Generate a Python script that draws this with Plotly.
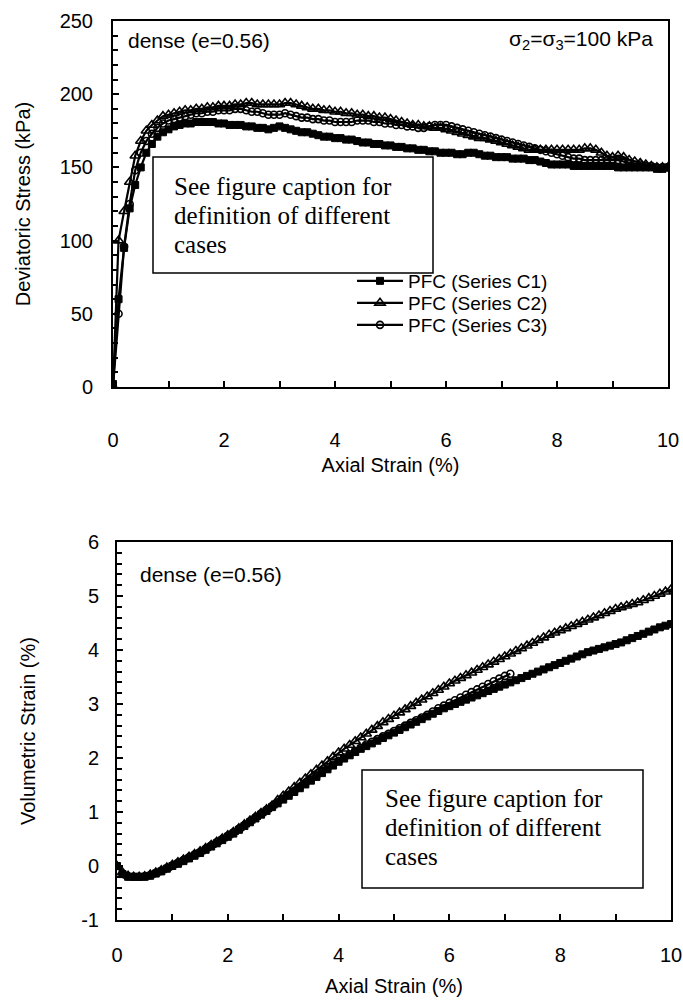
import plotly.graph_objects as go

# ---------------- data ----------------
strain = [0.0, 0.1, 0.2, 0.3, 0.4, 0.5, 0.6, 0.7, 0.8, 0.9,
          1.0, 1.1, 1.2, 1.3, 1.4, 1.5, 1.6, 1.7, 1.8, 1.9,
          2.0, 2.1, 2.2, 2.3, 2.4, 2.5, 2.6, 2.7, 2.8, 2.9,
          3.0, 3.1, 3.2, 3.3, 3.4, 3.5, 3.6, 3.7, 3.8, 3.9,
          4.0, 4.1, 4.2, 4.3, 4.4, 4.5, 4.6, 4.7, 4.8, 4.9,
          5.0, 5.1, 5.2, 5.3, 5.4, 5.5, 5.6, 5.7, 5.8, 5.9,
          6.0, 6.1, 6.2, 6.3, 6.4, 6.5, 6.6, 6.7, 6.8, 6.9,
          7.0, 7.1, 7.2, 7.3, 7.4, 7.5, 7.6, 7.7, 7.8, 7.9,
          8.0, 8.1, 8.2, 8.3, 8.4, 8.5, 8.6, 8.7, 8.8, 8.9,
          9.0, 9.1, 9.2, 9.3, 9.4, 9.5, 9.6, 9.7, 9.8, 9.9, 10.0]

# Deviatoric stress (kPa)
q_c1 = [2, 60, 95, 122, 138, 150, 160, 166, 171, 174,
        176, 178, 179, 180, 180, 181, 181, 181, 181, 180,
        180, 179, 179, 179, 178, 178, 177, 177, 176, 177,
        178, 177, 176, 175, 174, 174, 173, 172, 171, 171,
        170, 170, 169, 169, 168, 167, 167, 166, 166, 165,
        165, 164, 164, 163, 163, 162, 162, 161, 161, 160,
        160, 160, 159, 159, 160, 160, 159, 158, 158, 157,
        157, 157, 156, 156, 156, 155, 155, 154, 153, 152,
        152, 152, 152, 151, 151, 151, 151, 151, 151, 151,
        151, 150, 150, 150, 150, 150, 150, 150, 149, 149, 150]
q_c2 = [0, 100, 120, 140, 158, 168, 175, 179, 182, 185,
        186, 187, 188, 189, 189, 190, 190, 191, 191, 192,
        192, 192, 193, 193, 194, 194, 193, 193, 193, 193,
        193, 194, 194, 193, 192, 191, 190, 190, 189, 189,
        188, 188, 187, 187, 186, 186, 185, 185, 184, 184,
        183, 182, 181, 180, 179, 179, 178, 178, 177, 177,
        176, 175, 174, 173, 172, 171, 170, 170, 169, 168,
        167, 166, 165, 164, 163, 162, 162, 162, 162, 162,
        162, 162, 162, 162, 162, 163, 163, 162, 160, 158,
        157, 158, 157, 155, 154, 153, 152, 151, 150, 150, 150]
q_c3 = [0, 50, 96, 125, 148, 160, 168, 173, 177, 180,
        182, 183, 184, 185, 186, 187, 187, 188, 188, 189,
        189, 189, 190, 190, 189, 188, 188, 187, 186, 186,
        186, 187, 186, 185, 184, 184, 183, 183, 182, 182,
        181, 181, 181, 181, 182, 182, 182, 181, 181, 180,
        180, 179, 179, 178, 178, 177, 177, 178, 179, 179,
        179, 178, 177, 176, 175, 174, 173, 172, 171, 170,
        169, 168, 167, 166, 165, 164, 163, 162, 161, 160,
        159, 158, 157, 156, 156, 155, 155, 155, 155, 155,
        155, 155, 154, 153, 152, 152, 151, 151, 150, 150, 150]

# Volumetric strain (%)
v_c1 = [0.0, -0.15, -0.2, -0.2, -0.2, -0.2, -0.18, -0.14, -0.1, -0.05,
        0.0, 0.04, 0.09, 0.14, 0.19, 0.24, 0.3, 0.36, 0.42, 0.48,
        0.54, 0.6, 0.67, 0.74, 0.81, 0.88, 0.95, 1.02, 1.09, 1.16,
        1.23, 1.3, 1.37, 1.44, 1.51, 1.58, 1.65, 1.72, 1.79, 1.86,
        1.93, 1.99, 2.05, 2.11, 2.17, 2.22, 2.27, 2.32, 2.37, 2.42,
        2.47, 2.52, 2.57, 2.62, 2.67, 2.72, 2.77, 2.82, 2.87, 2.92,
        2.96, 3.0, 3.04, 3.08, 3.12, 3.16, 3.2, 3.24, 3.28, 3.32,
        3.36, 3.4, 3.44, 3.48, 3.52, 3.56, 3.6, 3.64, 3.68, 3.72,
        3.76, 3.8, 3.84, 3.88, 3.92, 3.96, 3.99, 4.02, 4.05, 4.08,
        4.11, 4.14, 4.18, 4.22, 4.26, 4.3, 4.34, 4.38, 4.42, 4.45, 4.48]
v_c2 = [0.0, -0.12, -0.18, -0.2, -0.2, -0.19, -0.16, -0.12, -0.08, -0.03,
        0.02, 0.07, 0.12, 0.17, 0.22, 0.27, 0.33, 0.39, 0.45, 0.51,
        0.57, 0.63, 0.7, 0.77, 0.84, 0.91, 0.98, 1.05, 1.12, 1.22,
        1.3, 1.38, 1.46, 1.54, 1.62, 1.7, 1.78, 1.86, 1.94, 2.02,
        2.1, 2.17, 2.24, 2.31, 2.38, 2.45, 2.52, 2.59, 2.66, 2.72,
        2.78, 2.84, 2.9, 2.96, 3.02, 3.08, 3.14, 3.2, 3.26, 3.32,
        3.38, 3.43, 3.48, 3.53, 3.58, 3.63, 3.68, 3.73, 3.78, 3.83,
        3.88, 3.93, 3.98, 4.03, 4.08, 4.13, 4.18, 4.23, 4.28, 4.32,
        4.36, 4.4, 4.44, 4.48, 4.52, 4.56, 4.6, 4.64, 4.68, 4.72,
        4.76, 4.79, 4.82, 4.85, 4.88, 4.92, 4.96, 5.0, 5.04, 5.08, 5.12]
v_c3 = [0.0, -0.14, -0.19, -0.2, -0.2, -0.19, -0.17, -0.13, -0.09, -0.04,
        0.01, 0.06, 0.11, 0.16, 0.21, 0.26, 0.32, 0.38, 0.44, 0.5,
        0.56, 0.62, 0.69, 0.76, 0.83, 0.9, 0.97, 1.04, 1.11, 1.18,
        1.25, 1.32, 1.39, 1.46, 1.53, 1.6, 1.67, 1.74, 1.81, 1.88,
        1.95, 2.01, 2.07, 2.13, 2.19, 2.25, 2.3, 2.35, 2.4, 2.45,
        2.5, 2.55, 2.6, 2.65, 2.7, 2.75, 2.8, 2.86, 2.92, 2.97,
        3.02, 3.07, 3.12, 3.17, 3.22, 3.27, 3.32, 3.37, 3.42, 3.47,
        3.52, 3.56]

series_names = ["PFC (Series C1)", "PFC (Series C2)", "PFC (Series C3)"]

x_ticks = [0, 2, 4, 6, 8, 10]
x_ticktext = ["0", "2", "4", "6", "8", "10"]
q_ticks = [0, 50, 100, 150, 200, 250]
q_ticktext = ["0", "50", "100", "150", "200", "250"]
v_ticks = [-1, 0, 1, 2, 3, 4, 5, 6]
v_ticktext = ["-1", "0", "1", "2", "3", "4", "5", "6"]

# ---------------- styling ----------------
sans = "Liberation Sans, Arial, sans-serif"
serif = "Liberation Serif, Times New Roman, serif"
black = "#000000"

markers = [
    dict(symbol="square", size=7, color=black, line=dict(color=black, width=1)),
    dict(symbol="triangle-up-open", size=9, color=black, line=dict(color=black, width=1.6)),
    dict(symbol="circle-open", size=7, color=black, line=dict(color=black, width=1.6)),
]
legend_ids = ["legend", "legend2", "legend3"]

fig = go.Figure()

q_data = [q_c1, q_c2, q_c3]
v_data = [v_c1, v_c2, v_c3]
for i in range(3):
    fig.add_trace(go.Scatter(
        x=strain[:len(q_data[i])], y=q_data[i], mode="lines+markers",
        name=series_names[i], line=dict(color=black, width=2.2),
        marker=markers[i], xaxis="x", yaxis="y", showlegend=True,
        legend=legend_ids[i]))
for i in range(3):
    fig.add_trace(go.Scatter(
        x=strain[:len(v_data[i])], y=v_data[i], mode="lines+markers",
        name=series_names[i], line=dict(color=black, width=2.2),
        marker=markers[i], xaxis="x2", yaxis="y2", showlegend=False))

W, H = 683, 1005

def px(x):
    return x / W

def py(y):
    return 1 - y / H

axis_common = dict(
    showline=True, linecolor=black, linewidth=2, mirror=True,
    ticks="inside", tickcolor=black, ticklen=6, tickwidth=1.5,
    showgrid=False, zeroline=False,
    tickfont=dict(family=sans, size=20, color=black),
    automargin=False,
)

legend_style = dict(
    xanchor="left", yanchor="middle",
    bgcolor="rgba(0,0,0,0)", borderwidth=0,
    font=dict(family=sans, size=19, color=black),
    itemwidth=46,
)
legend_y = [281, 303, 325]

fig.update_layout(
    width=W, height=H,
    margin=dict(l=0, r=0, t=0, b=0),
    paper_bgcolor="white", plot_bgcolor="white",
    showlegend=True,
    legend=dict(x=px(352), y=py(legend_y[0]), **legend_style),
    legend2=dict(x=px(352), y=py(legend_y[1]), **legend_style),
    legend3=dict(x=px(352), y=py(legend_y[2]), **legend_style),
    xaxis=dict(
        domain=[px(113), px(668)], anchor="y", range=[0, 10],
        tickvals=x_ticks, ticktext=x_ticktext, ticklabelstandoff=34,
        minor=dict(dtick=1, ticks="inside", ticklen=6, tickcolor=black, tickwidth=1.5),
        title=dict(text="Axial Strain (%)", font=dict(family=sans, size=20, color=black), standoff=8),
        **axis_common),
    yaxis=dict(
        domain=[py(387), py(21)], anchor="x", range=[0, 250],
        tickvals=q_ticks, ticktext=q_ticktext, ticklabelstandoff=14,
        minor=dict(dtick=10, ticks="inside", ticklen=5, tickcolor=black, tickwidth=1.5),
        title=dict(text="Deviatoric Stress (kPa)", font=dict(family=sans, size=20, color=black), standoff=24),
        **axis_common),
    xaxis2=dict(
        domain=[px(117), px(671)], anchor="y2", range=[0, 10],
        tickvals=x_ticks, ticktext=x_ticktext, ticklabelstandoff=16,
        minor=dict(dtick=1, ticks="inside", ticklen=6, tickcolor=black, tickwidth=1.5),
        title=dict(text="Axial Strain (%)", font=dict(family=sans, size=20, color=black), standoff=14),
        **axis_common),
    yaxis2=dict(
        domain=[py(920), py(542)], anchor="x2", range=[-1, 6],
        tickvals=v_ticks, ticktext=v_ticktext, ticklabelstandoff=12,
        minor=dict(dtick=0.2, ticks="inside", ticklen=5, tickcolor=black, tickwidth=1.5),
        title=dict(text="Volumetric Strain (%)", font=dict(family=sans, size=20, color=black), standoff=40),
        **axis_common),
)

annos = []
# top panel labels
annos.append(dict(text="dense (e=0.56)", x=px(126), y=py(40), xref="paper", yref="paper",
                  xanchor="left", yanchor="middle", showarrow=False,
                  font=dict(family=sans, size=21, color=black)))
annos.append(dict(text="σ<sub>2</sub>=σ<sub>3</sub>=100 kPa", x=px(655), y=py(40), xref="paper", yref="paper",
                  xanchor="right", yanchor="middle", showarrow=False,
                  font=dict(family=sans, size=21, color=black)))
# bottom panel label
annos.append(dict(text="dense (e=0.56)", x=px(138), y=py(574), xref="paper", yref="paper",
                  xanchor="left", yanchor="middle", showarrow=False,
                  font=dict(family=sans, size=21, color=black)))

caption_lines = ["See figure caption for", "definition of different", "cases"]
# top caption box
for k, line in enumerate(caption_lines):
    annos.append(dict(text=line, x=px(172), y=py(186 + 29 * k), xref="paper", yref="paper",
                      xanchor="left", yanchor="middle", showarrow=False,
                      font=dict(family=serif, size=25, color=black)))
# bottom caption box
for k, line in enumerate(caption_lines):
    annos.append(dict(text=line, x=px(383), y=py(798 + 29 * k), xref="paper", yref="paper",
                      xanchor="left", yanchor="middle", showarrow=False,
                      font=dict(family=serif, size=25, color=black)))
fig.update_layout(annotations=annos)

shapes = [
    dict(type="rect", xref="paper", yref="paper", x0=px(153), x1=px(433), y0=py(273), y1=py(157),
         line=dict(color=black, width=1.5), fillcolor="white", layer="above"),
    dict(type="rect", xref="paper", yref="paper", x0=px(362), x1=px(643), y0=py(888), y1=py(770),
         line=dict(color=black, width=1.5), fillcolor="white", layer="above"),
]
fig.update_layout(shapes=shapes)

fig.write_html("out.html")
